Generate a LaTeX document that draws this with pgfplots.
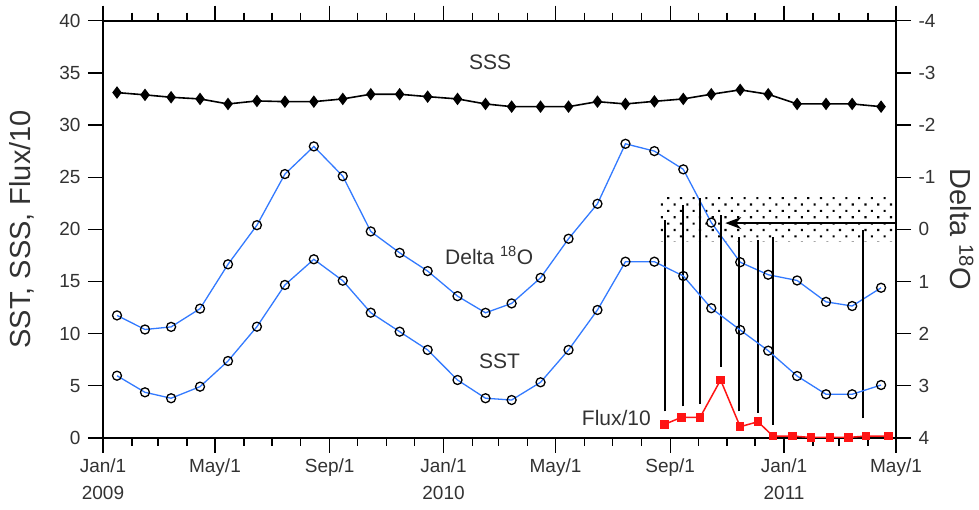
\documentclass[border=0pt]{standalone}
\usepackage{fontspec}
\setmainfont{Liberation Sans}
\usepackage{pgfplots}
\pgfplotsset{compat=1.18}
\usetikzlibrary{arrows.meta,patterns.meta}
\definecolor{lineblue}{RGB}{51,122,255}
\definecolor{txt}{RGB}{50,50,50}
\definecolor{fluxred}{RGB}{255,20,20}

\pgfplotsset{
  common/.style={
    width=793pt, height=417.3pt, scale only axis,
    xmin=0, xmax=850,
    tick align=outside,
    major tick length=15pt, minor tick length=8pt,
    every tick/.style={black, line width=1.3pt},
    axis line style={black, line width=1.7pt},
    /pgf/number format/assume math mode=true,
    tick label style={font=\fontsize{19}{27}\selectfont, text=txt},
    label style={font=\fontsize{29}{32}\selectfont, text=txt},
  }
}

\begin{document}
\begin{tikzpicture}
% right axis: Delta 18O
\begin{axis}[common,
  axis x line=none, axis y line*=right,
  ymin=-4, ymax=4, y dir=reverse,
  ytick={-4,-3,...,4},
  yticklabel style={xshift=4pt},
  ylabel={Delta \textsuperscript{18}O},
  ylabel style={at={(axis description cs:1.083,0.5)}, anchor=center, rotate=-180},
]
\addplot[draw=none, pattern={Dots[distance=9pt, radius=1.5pt, angle=45]}, pattern color=black]
  coordinates {(595,-0.62) (847,-0.62) (847,0.24) (595,0.24) (595,-0.62)};
\addplot[black, line width=1.7pt, -{Stealth[length=16pt,width=12pt]}]
  coordinates {(850,-0.12) (667,-0.12)};
\addplot[lineblue, line width=1.3pt, mark=o, mark size=4.5pt,
  mark options={black, line width=1.3pt, solid}]
  coordinates {
  (15,1.65) (45,1.92) (73,1.87) (104,1.52) (134,0.67) (165,-0.08) (195,-1.06)
  (226,-1.59) (257,-1.02) (287,0.04) (318,0.45) (348,0.80) (380,1.28) (410,1.60)
  (438,1.42) (469,0.93) (499,0.18) (530,-0.49) (560,-1.64) (591,-1.50) (622,-1.15)
  (652,-0.13) (683,0.63) (713,0.87) (744,0.98) (775,1.39) (803,1.47) (834,1.12)
  };
\end{axis}
% main axis
\begin{axis}[common,
  axis y line*=left,
  ymin=0, ymax=40, ytick={0,5,...,40},
  yticklabel style={xshift=-4pt},
  xtick={0,120,243,365,485,608,730,850},
  minor xtick={31,59,90,151,181,212,273,304,334,396,424,455,516,546,577,638,669,699,761,789,820},
  xticklabels={{Jan/1\\2009},{May/1},{Sep/1},{Jan/1\\2010},{May/1},{Sep/1},{Jan/1\\2011},{May/1}},
  xtick pos=both, xticklabel pos=lower,
  xticklabel style={align=center, yshift=-2pt},
  ylabel={SST, SSS, Flux/10},
  ylabel style={at={(axis description cs:-0.102,0.5)}, anchor=center},
]
\coordinate (ll) at (rel axis cs:0,0);
\coordinate (ur) at (rel axis cs:1,1);
% vertical lines
\addplot[black, line width=1.8pt] coordinates {(602,2.55) (602,20.9)};
\addplot[black, line width=1.8pt] coordinates {(622,3.02) (622,22.3)};
\addplot[black, line width=1.8pt] coordinates {(640,3.24) (640,23.0)};
\addplot[black, line width=1.8pt] coordinates {(662,6.84) (662,21.4)};
\addplot[black, line width=1.8pt] coordinates {(682,2.55) (682,19.3)};
\addplot[black, line width=1.8pt] coordinates {(702,2.40) (702,19.0)};
\addplot[black, line width=1.8pt] coordinates {(718,1.25) (718,19.3)};
\addplot[black, line width=1.8pt] coordinates {(815,1.87) (815,19.9)};
% SSS
\addplot[black, line width=1.6pt, mark=diamond*, mark size=5pt, mark options={solid}]
  coordinates {
  (15,33.11) (45,32.89) (73,32.66) (104,32.50) (134,32.02) (165,32.31) (195,32.24)
  (226,32.24) (257,32.50) (287,32.95) (318,32.95) (348,32.72) (380,32.50) (410,32.02)
  (438,31.76) (469,31.76) (499,31.76) (530,32.24) (560,32.02) (591,32.27) (622,32.50)
  (652,32.95) (683,33.37) (713,32.95) (744,32.02) (775,32.02) (803,32.02) (834,31.76)
  };
% SST
\addplot[lineblue, line width=1.3pt, mark=o, mark size=4.5pt,
  mark options={black, line width=1.3pt, solid}]
  coordinates {
  (15,5.97) (45,4.38) (73,3.81) (104,4.92) (134,7.38) (165,10.67) (195,14.67)
  (226,17.13) (257,15.08) (287,12.01) (318,10.19) (348,8.44) (380,5.56) (410,3.81)
  (438,3.64) (469,5.34) (499,8.44) (530,12.27) (560,16.90) (591,16.90) (622,15.53)
  (652,12.44) (683,10.35) (713,8.37) (744,5.94) (775,4.19) (803,4.19) (834,5.08)
  };
% Flux/10
\addplot[fluxred, line width=1.5pt, mark=square*, mark size=3.5pt, mark options={solid}]
  coordinates {
  (602,1.31) (620,1.98) (640,1.98) (662,5.56) (683,1.08) (702,1.56) (718,0.19)
  (739,0.19) (759,0.05) (779,0.05) (799,0.05) (818,0.19) (842,0.19)
  };
\node[font=\fontsize{21}{24}\selectfont, text=txt] at (axis cs:415,36) {SSS};
\node[font=\fontsize{21}{24}\selectfont, text=txt] at (axis cs:414,17.5) {Delta \textsuperscript{18}O};
\node[font=\fontsize{21}{24}\selectfont, text=txt] at (axis cs:425,7.4) {SST};
\node[font=\fontsize{21}{24}\selectfont, text=txt, anchor=east] at (axis cs:591,1.95) {Flux/10};
\end{axis}
\pgfresetboundingbox
\path ([shift={(-103pt,-72pt)}]ll) rectangle ([shift={(83pt,20.7pt)}]ur);
\end{tikzpicture}
\end{document}
